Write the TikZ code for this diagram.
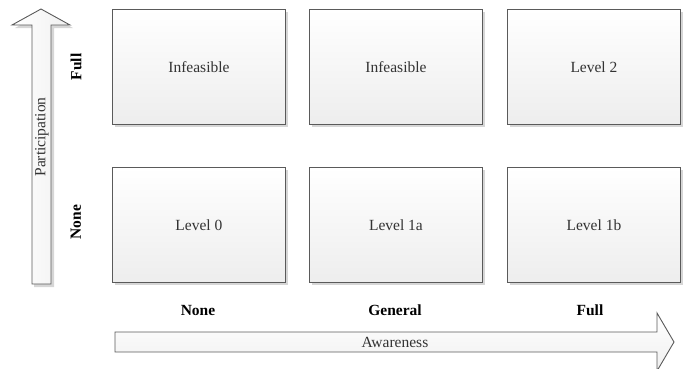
\documentclass[tikz,border=0pt]{standalone}
\usepackage{fontspec}
\setmainfont{Liberation Serif}
\usetikzlibrary{shadows}
\definecolor{edgegray}{HTML}{5A5A5A}
\definecolor{txtgray}{HTML}{333333}
\definecolor{shadowgray}{HTML}{D6D6D6}
\begin{document}
\begin{tikzpicture}[x=1pt,y=-1pt,
  cell/.style={draw=edgegray, line width=0.9pt, top color=white, bottom color=black!7,
    minimum width=173pt, minimum height=115pt, inner sep=0pt, anchor=north west,
    text=txtgray, font=\fontsize{15.5}{18}\selectfont,
    drop shadow={shadow xshift=2.5pt, shadow yshift=-2.5pt, fill=shadowgray, opacity=1}},
  axislabel/.style={font=\fontsize{15.5}{18}\selectfont\bfseries, text=black},
  arrowlabel/.style={font=\fontsize{15.5}{18}\selectfont, text=txtgray},
  bigarrow/.style={draw=edgegray, line width=0.9pt, line join=miter}
]
\useasboundingbox (0,0) rectangle (683,368);
% boxes
\node[cell] (b11) at (112,9) {Infeasible};
\node[cell] (b12) at (309,9) {Infeasible};
\node[cell] (b13) at (507,9) {Level 2};
\node[cell] (b21) at (112,167) {Level 0};
\node[cell] (b22) at (309,167) {Level 1a};
\node[cell] (b23) at (507,167) {Level 1b};
% vertical arrow
\fill[shadowgray] (34,287) -- (54,287) -- (54,28) -- (73,28) -- (44,12) -- (15,28) -- (34,28) -- cycle;
\path[bigarrow, left color=white, right color=black!6]
  (32,284) -- (51,284) -- (51,25) -- (70,25) -- (41,9) -- (12,25) -- (32,25) -- cycle;
\node[arrowlabel, rotate=90] (part) at (42,137) {Participation};
% horizontal arrow
\path[bigarrow, top color=white, bottom color=black!6]
  (115,332) -- (657,332) -- (657,313) -- (674,342) -- (657,371) -- (657,352) -- (115,352) -- cycle;
\node[arrowlabel] (aware) at (395,342) {Awareness};
% axis labels
\node[axislabel, rotate=90] (pfull) at (76,67) {Full};
\node[axislabel, rotate=90] (pnone) at (76,222) {None};
\node[axislabel] (anone) at (198,310) {None};
\node[axislabel] (agen) at (395,310) {General};
\node[axislabel] (afull) at (590,310) {Full};
\end{tikzpicture}
\end{document}
